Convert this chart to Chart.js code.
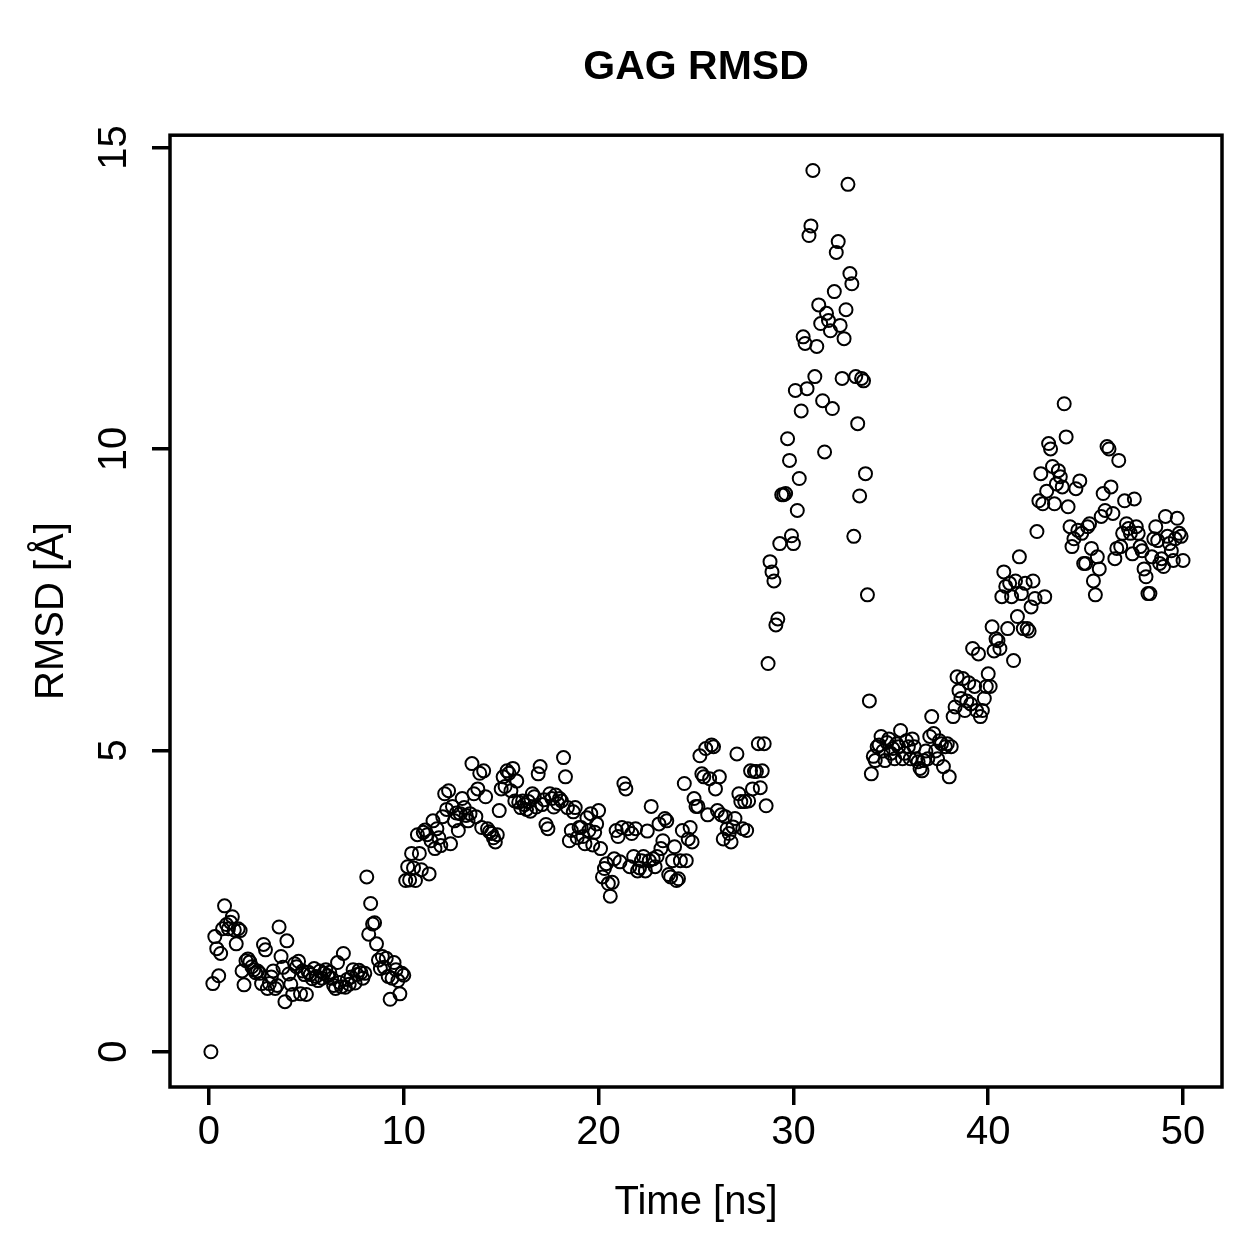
<!DOCTYPE html>
<html>
<head>
<meta charset="utf-8">
<script src="https://cdn.jsdelivr.net/npm/chart.js@4.4.1/dist/chart.umd.min.js"></script>
<style>
  html, body { margin: 0; padding: 0; background: #fff; }
  canvas { display: block; }
</style>
</head>
<body>
<canvas id="rmsd" width="1259" height="1259"></canvas>
<script>
// simulation time [ns]
const time = [
  0.1, 0.2, 0.3, 0.4, 0.5, 0.6, 0.7, 0.8, 0.9, 1.0,
  1.1, 1.2, 1.3, 1.4, 1.5, 1.6, 1.7, 1.8, 1.9, 2.0,
  2.1, 2.2, 2.3, 2.4, 2.5, 2.6, 2.7, 2.8, 2.9, 3.0,
  3.1, 3.2, 3.3, 3.4, 3.5, 3.6, 3.7, 3.8, 3.9, 4.0,
  4.1, 4.2, 4.3, 4.4, 4.5, 4.6, 4.7, 4.8, 4.9, 5.0,
  5.1, 5.2, 5.3, 5.4, 5.5, 5.6, 5.7, 5.8, 5.9, 6.0,
  6.1, 6.2, 6.3, 6.4, 6.5, 6.6, 6.7, 6.8, 6.9, 7.0,
  7.1, 7.2, 7.3, 7.4, 7.5, 7.6, 7.7, 7.8, 7.9, 8.0,
  8.1, 8.2, 8.3, 8.4, 8.5, 8.6, 8.7, 8.8, 8.9, 9.0,
  9.1, 9.2, 9.3, 9.4, 9.5, 9.6, 9.7, 9.8, 9.9, 10.0,
  10.1, 10.2, 10.3, 10.4, 10.5, 10.6, 10.7, 10.8, 10.9, 11.0,
  11.1, 11.2, 11.3, 11.4, 11.5, 11.6, 11.7, 11.8, 11.9, 12.0,
  12.1, 12.2, 12.3, 12.4, 12.5, 12.6, 12.7, 12.8, 12.9, 13.0,
  13.1, 13.2, 13.3, 13.4, 13.5, 13.6, 13.7, 13.8, 13.9, 14.0,
  14.1, 14.2, 14.3, 14.4, 14.5, 14.6, 14.7, 14.8, 14.9, 15.0,
  15.1, 15.2, 15.3, 15.4, 15.5, 15.6, 15.7, 15.8, 15.9, 16.0,
  16.1, 16.2, 16.3, 16.4, 16.5, 16.6, 16.7, 16.8, 16.9, 17.0,
  17.1, 17.2, 17.3, 17.4, 17.5, 17.6, 17.7, 17.8, 17.9, 18.0,
  18.1, 18.2, 18.3, 18.4, 18.5, 18.6, 18.7, 18.8, 18.9, 19.0,
  19.1, 19.2, 19.3, 19.4, 19.5, 19.6, 19.7, 19.8, 19.9, 20.0,
  20.1, 20.2, 20.3, 20.4, 20.5, 20.6, 20.7, 20.8, 20.9, 21.0,
  21.1, 21.2, 21.3, 21.4, 21.5, 21.6, 21.7, 21.8, 21.9, 22.0,
  22.1, 22.2, 22.3, 22.4, 22.5, 22.6, 22.7, 22.8, 22.9, 23.0,
  23.1, 23.2, 23.3, 23.4, 23.5, 23.6, 23.7, 23.8, 23.9, 24.0,
  24.1, 24.2, 24.3, 24.4, 24.5, 24.6, 24.7, 24.8, 24.9, 25.0,
  25.1, 25.2, 25.3, 25.4, 25.5, 25.6, 25.7, 25.8, 25.9, 26.0,
  26.1, 26.2, 26.3, 26.4, 26.5, 26.6, 26.7, 26.8, 26.9, 27.0,
  27.1, 27.2, 27.3, 27.4, 27.5, 27.6, 27.7, 27.8, 27.9, 28.0,
  28.1, 28.2, 28.3, 28.4, 28.5, 28.6, 28.7, 28.8, 28.9, 29.0,
  29.1, 29.2, 29.3, 29.4, 29.5, 29.6, 29.7, 29.8, 29.9, 30.0,
  30.1, 30.2, 30.3, 30.4, 30.5, 30.6, 30.7, 30.8, 30.9, 31.0,
  31.1, 31.2, 31.3, 31.4, 31.5, 31.6, 31.7, 31.8, 31.9, 32.0,
  32.1, 32.2, 32.3, 32.4, 32.5, 32.6, 32.7, 32.8, 32.9, 33.0,
  33.1, 33.2, 33.3, 33.4, 33.5, 33.6, 33.7, 33.8, 33.9, 34.0,
  34.1, 34.2, 34.3, 34.4, 34.5, 34.6, 34.7, 34.8, 34.9, 35.0,
  35.1, 35.2, 35.3, 35.4, 35.5, 35.6, 35.7, 35.8, 35.9, 36.0,
  36.1, 36.2, 36.3, 36.4, 36.5, 36.6, 36.7, 36.8, 36.9, 37.0,
  37.1, 37.2, 37.3, 37.4, 37.5, 37.6, 37.7, 37.8, 37.9, 38.0,
  38.1, 38.2, 38.3, 38.4, 38.5, 38.6, 38.7, 38.8, 38.9, 39.0,
  39.1, 39.2, 39.3, 39.4, 39.5, 39.6, 39.7, 39.8, 39.9, 40.0,
  40.1, 40.2, 40.3, 40.4, 40.5, 40.6, 40.7, 40.8, 40.9, 41.0,
  41.1, 41.2, 41.3, 41.4, 41.5, 41.6, 41.7, 41.8, 41.9, 42.0,
  42.1, 42.2, 42.3, 42.4, 42.5, 42.6, 42.7, 42.8, 42.9, 43.0,
  43.1, 43.2, 43.3, 43.4, 43.5, 43.6, 43.7, 43.8, 43.9, 44.0,
  44.1, 44.2, 44.3, 44.4, 44.5, 44.6, 44.7, 44.8, 44.9, 45.0,
  45.1, 45.2, 45.3, 45.4, 45.5, 45.6, 45.7, 45.8, 45.9, 46.0,
  46.1, 46.2, 46.3, 46.4, 46.5, 46.6, 46.7, 46.8, 46.9, 47.0,
  47.1, 47.2, 47.3, 47.4, 47.5, 47.6, 47.7, 47.8, 47.9, 48.0,
  48.1, 48.2, 48.3, 48.4, 48.5, 48.6, 48.7, 48.8, 48.9, 49.0,
  49.1, 49.2, 49.3, 49.4, 49.5, 49.6, 49.7, 49.8, 49.9, 50.0
];

// RMSD [Å], one value per frame
const rmsd = [
  0.00, 1.13, 1.91, 1.71, 1.26, 1.63, 2.04, 2.42, 2.11, 2.04,
  2.15, 2.24, 2.02, 1.79, 2.04, 2.01, 1.34, 1.11, 1.51, 1.54,
  1.49, 1.41, 1.36, 1.31, 1.34, 1.30, 1.13, 1.78, 1.69, 1.05,
  1.13, 1.24, 1.34, 1.05, 1.10, 2.07, 1.58, 1.40, 0.83, 1.84,
  1.29, 1.12, 0.95, 1.46, 1.41, 1.50, 0.96, 1.34, 1.28, 0.95,
  1.32, 1.28, 1.21, 1.38, 1.25, 1.18, 1.34, 1.22, 1.30, 1.36,
  1.26, 1.32, 1.22, 1.10, 1.05, 1.48, 1.15, 1.08, 1.63, 1.07,
  1.20, 1.12, 1.24, 1.36, 1.14, 1.28, 1.35, 1.31, 1.22, 1.30,
  2.90, 1.95, 2.46, 2.12, 2.14, 1.79, 1.52, 1.38, 1.58, 1.40,
  1.55, 1.25, 0.87, 1.22, 1.48, 1.36, 1.18, 0.96, 1.30, 1.27,
  2.84, 3.07, 2.85, 3.29, 3.05, 2.84, 3.60, 3.29, 3.02, 3.64,
  3.68, 3.60, 2.95, 3.50, 3.83, 3.37, 3.70, 3.55, 3.42, 3.90,
  4.28, 4.02, 4.33, 3.45, 4.07, 3.83, 3.96, 3.67, 3.95, 4.20,
  4.05, 3.92, 3.83, 3.95, 4.78, 4.28, 3.90, 4.36, 4.62, 3.72,
  4.66, 4.23, 3.70, 3.65, 3.62, 3.55, 3.48, 3.60, 4.00, 4.36,
  4.56, 4.40, 4.66, 4.62, 4.33, 4.70, 4.16, 4.49, 4.14, 4.05,
  4.16, 4.10, 4.02, 4.15, 3.99, 4.28, 4.23, 4.06, 4.61, 4.73,
  4.10, 4.18, 3.77, 3.70, 4.28, 4.20, 4.06, 4.26, 4.12, 4.20,
  4.16, 4.88, 4.56, 4.05, 3.50, 3.67, 3.98, 4.05, 3.55, 3.72,
  3.72, 3.57, 3.45, 3.88, 3.67, 3.95, 3.43, 3.64, 3.78, 4.00,
  3.37, 2.90, 3.04, 3.12, 2.79, 2.58, 2.81, 3.20, 3.67, 3.57,
  3.15, 3.72, 4.45, 4.36, 3.70, 3.07, 3.62, 3.24, 3.70, 3.00,
  3.05, 3.17, 3.24, 3.00, 3.66, 3.17, 4.07, 3.20, 3.07, 3.24,
  3.78, 3.37, 3.50, 3.87, 3.83, 2.94, 2.90, 3.17, 3.40, 2.84,
  2.87, 3.17, 3.67, 4.45, 3.17, 3.53, 3.72, 3.48, 4.20, 4.07,
  4.07, 4.91, 4.61, 4.56, 5.03, 3.93, 4.53, 5.09, 5.06, 4.36,
  4.00, 4.56, 3.93, 3.53, 3.90, 3.70, 3.62, 3.48, 3.73, 3.87,
  4.94, 4.28, 4.15, 3.70, 4.15, 3.67, 4.16, 4.66, 4.36, 4.65,
  4.65, 5.11, 4.38, 4.66, 5.11, 4.08, 6.44, 8.13, 7.96, 7.81,
  7.08, 7.18, 8.43, 9.24, 9.24, 9.26, 10.17, 9.81, 8.56, 8.43,
  10.97, 8.98, 9.51, 10.63, 11.86, 11.75, 11.00, 13.54, 13.70, 14.62,
  11.20, 11.70, 12.39, 12.08, 10.80, 9.95, 12.25, 12.13, 11.96, 10.67,
  12.61, 13.26, 13.44, 12.05, 11.17, 11.83, 12.31, 14.39, 12.91, 12.74,
  8.55, 11.20, 10.42, 9.22, 11.17, 11.13, 9.59, 7.58, 5.82, 4.61,
  4.90, 4.83, 5.06, 5.09, 5.23, 4.99, 4.83, 5.13, 5.19, 4.95,
  5.03, 4.86, 5.11, 5.06, 5.33, 4.86, 4.95, 5.16, 5.06, 4.86,
  5.19, 5.06, 4.86, 4.81, 4.70, 4.66, 4.83, 4.99, 4.86, 5.23,
  5.56, 5.28, 4.99, 4.86, 5.16, 5.11, 4.73, 5.06, 5.11, 4.56,
  5.06, 5.56, 5.72, 6.22, 5.99, 5.86, 6.19, 5.66, 5.82, 6.12,
  5.77, 6.69, 6.06, 5.66, 6.60, 5.56, 5.66, 5.86, 6.06, 6.27,
  6.06, 7.05, 6.65, 6.85, 6.82, 6.69, 7.55, 7.96, 7.72, 7.02,
  7.77, 7.55, 6.49, 7.81, 7.22, 8.21, 7.60, 7.02, 7.77, 7.02,
  6.98, 7.38, 7.81, 7.52, 8.63, 9.14, 9.59, 9.09, 7.55, 9.30,
  10.09, 10.00, 9.71, 9.09, 9.42, 9.64, 9.54, 9.37, 10.75, 10.20,
  9.04, 8.71, 8.38, 8.51, 9.34, 8.65, 9.47, 8.60, 8.10, 8.10,
  8.71, 8.76, 8.35, 7.81, 7.58, 8.21, 8.01, 8.88, 9.26, 8.98,
  10.04, 10.00, 9.37, 8.93, 8.18, 8.35, 9.81, 8.38, 8.60, 9.14,
  8.76, 8.68, 8.60, 8.26, 9.17, 8.71, 8.60, 8.38, 8.31, 8.01,
  7.88, 7.60, 7.60, 8.21, 8.51, 8.71, 8.48, 8.10, 8.18, 8.05,
  8.88, 8.55, 8.43, 8.31, 8.15, 8.51, 8.85, 8.60, 8.55, 8.15
];

const xTicks = [0, 10, 20, 30, 40, 50];
const yTicks = [0, 5, 10, 15];

const FONT = "'Liberation Sans', Arial, Helvetica, sans-serif";
Chart.defaults.font.family = FONT;
Chart.defaults.color = "#000";

// R style box round the plot region
const boxPlugin = {
  id: "box",
  afterDraw(chart) {
    const a = chart.chartArea;
    const c = chart.ctx;
    c.save();
    c.strokeStyle = "#000";
    c.lineWidth = 3.5;
    c.strokeRect(a.left, a.top, a.right - a.left, a.bottom - a.top);
    c.restore();
  },
};

const ctx = document.getElementById("rmsd").getContext("2d");
const chart = new Chart(ctx, {
  type: "scatter",
  data: {
    datasets: [
      {
        label: "RMSD",
        data: time.map((t, i) => ({ x: t, y: rmsd[i] })),
        pointStyle: "circle",
        pointRadius: 6.5,
        pointBorderWidth: 2,
        pointBorderColor: "#000",
        pointBackgroundColor: "rgba(0, 0, 0, 0)",
        showLine: false,
      },
    ],
  },
  options: {
    responsive: false,
    animation: false,
    devicePixelRatio: 1,
    layout: { padding: { right: 37 } },
    plugins: {
      legend: { display: false },
      tooltip: { enabled: false },
      title: {
        display: true,
        fullSize: false,
        text: "GAG RMSD",
        color: "#000",
        font: { size: 41, weight: "bold", lineHeight: 1.2 },
        padding: { top: 43, bottom: 43 },
      },
    },
    scales: {
      x: {
        type: "linear",
        position: "bottom",
        min: -2,
        max: 52,
        afterBuildTicks: (s) => {
          s.ticks = xTicks.map((v) => ({ value: v }));
        },
        afterFit: (s) => {
          s.height = 172;
        },
        grid: {
          drawOnChartArea: false,
          drawTicks: true,
          tickLength: 18,
          lineWidth: 3.5,
          color: "#000",
        },
        border: { display: false },
        ticks: {
          autoSkip: false,
          maxRotation: 0,
          padding: 4,
          color: "#000",
          font: { size: 40, lineHeight: 1.2 },
        },
        title: {
          display: true,
          text: "Time [ns]",
          color: "#000",
          font: { size: 40, lineHeight: 1.2 },
          padding: { top: 0, bottom: 32 },
        },
      },
      y: {
        type: "linear",
        position: "left",
        min: -0.585,
        max: 15.205,
        afterBuildTicks: (s) => {
          s.ticks = yTicks.map((v) => ({ value: v }));
        },
        afterFit: (s) => {
          s.width = 170;
        },
        grid: {
          drawOnChartArea: false,
          drawTicks: true,
          tickLength: 18,
          lineWidth: 3.5,
          color: "#000",
        },
        border: { display: false },
        ticks: {
          autoSkip: false,
          minRotation: 90,
          maxRotation: 90,
          crossAlign: "center",
          padding: 15,
          color: "#000",
          font: { size: 40, lineHeight: 1.2 },
        },
        title: {
          display: true,
          text: "RMSD [Å]",
          color: "#000",
          font: { size: 40, lineHeight: 1.2 },
          padding: { top: 28, bottom: 0 },
        },
      },
    },
  },
  plugins: [boxPlugin],
});
</script>
</body>
</html>
